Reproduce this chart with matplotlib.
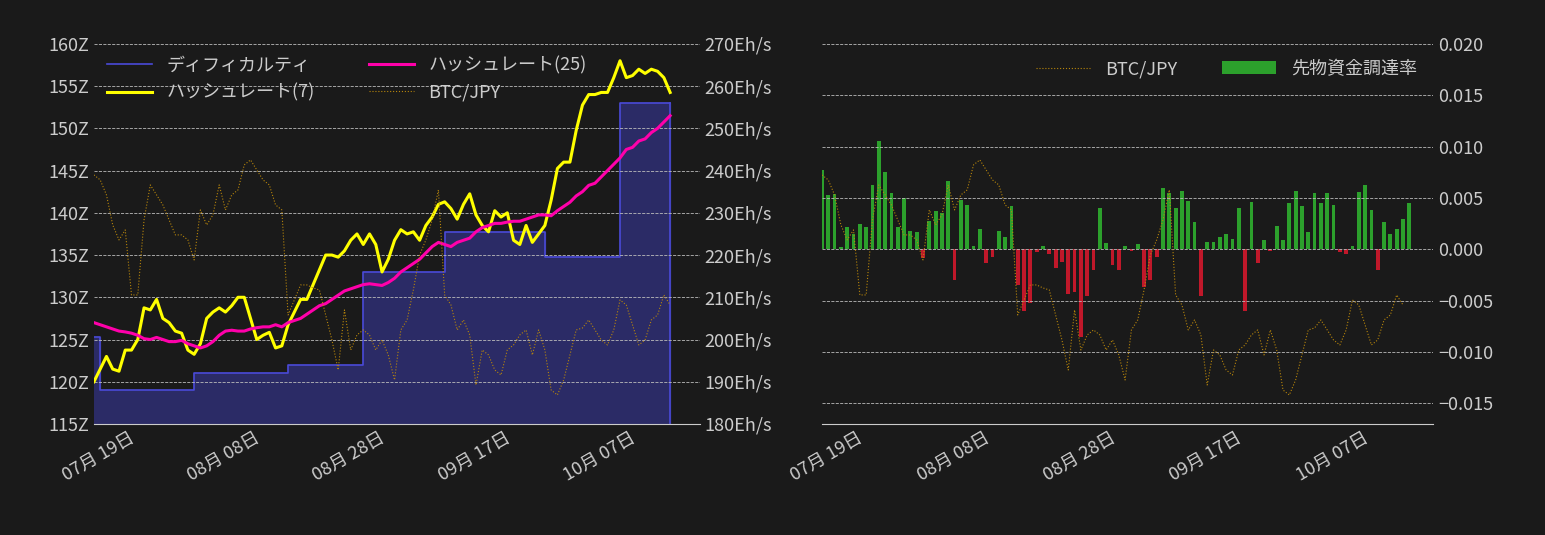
import matplotlib
matplotlib.use("Agg")
import matplotlib.pyplot as plt
import matplotlib.dates as mdates
import numpy as np
import pandas as pd

plt.rcParams['font.family'] = ['Noto Sans CJK JP', 'DejaVu Sans']

BG = '#1a1a1a'
FG = '#cccccc'

start = pd.Timestamp('2024-07-12')

# difficulty (Z): (change date, value)
diff_dates = ['2024-07-12', '2024-07-13', '2024-07-28', '2024-08-12', '2024-08-24',
              '2024-09-06', '2024-09-22', '2024-10-04', '2024-10-12']
diff_vals = [125.3, 119.0, 121.0, 122.0, 133.0, 137.7, 134.8, 153.0, 153.0]

hash7 = [190, 193, 196, 193, 192.5, 197.5, 197.5, 200, 207.5, 207, 209.5, 205, 204, 202,
         201.5, 197.5, 196.5, 199, 205, 206.5, 207.5, 206.5, 208, 210, 210, 205, 200, 201,
         201.7, 198, 198.5, 203.5, 206.5, 209.5, 209.5, 213, 216.5, 220, 220, 219.5, 221,
         223.5, 225, 222.5, 225, 222.5, 216, 219, 223.5, 226, 225, 225.5, 223.5, 227, 229,
         232, 232.6, 231, 228.5, 232, 234.5, 229.5, 227, 225.5, 230.5, 229, 230, 223.5,
         222.5, 227, 223, 225, 227, 233, 240.5, 242, 242, 249.5, 255.5, 258, 258, 258.5,
         258.5, 262, 266, 262, 262.5, 264, 263, 264, 263.5, 262, 258.5]

hash25 = [204, 203.5, 203, 202.5, 202, 201.8, 201.5, 201, 200.2, 200, 200.5, 200, 199.5,
          199.5, 199.8, 199, 198.5, 198, 198.5, 199.5, 201, 202, 202.2, 202, 202, 202.5,
          202.8, 203, 203, 203.5, 203, 204, 204.5, 205, 206, 207, 208, 208.5, 209.5, 210.5,
          211.5, 212, 212.5, 213, 213.2, 213, 212.8, 213.5, 214.5, 216, 217, 218, 219,
          220.5, 222, 223, 222.5, 222, 223, 223.5, 224, 225.5, 226.5, 227, 227.5, 227.5,
          227.8, 228, 228, 228.5, 229, 229.5, 229.5, 229.3, 230.5, 231.5, 232.5, 234, 235,
          236.5, 237, 238.5, 240, 241.5, 243, 245, 245.5, 247, 247.5, 249, 250, 251.5, 253]

btc = [977.5, 975, 967.5, 952.5, 945, 950, 917.5, 917.5, 955, 972.5, 967.5, 962.5, 955,
       947.5, 947.5, 945, 935, 960, 952.5, 957.5, 972.5, 960, 967.5, 970, 982.5, 985, 980,
       975, 972.5, 962.5, 960, 907.5, 915, 922.5, 922.5, 921, 920, 907.5, 895, 880, 910, 890,
       897.5, 900, 897.5, 890, 895, 887.5, 875, 900, 905, 920, 937.5, 945, 955, 970, 917.5,
       912.5, 900, 905, 897.5, 872.5, 890, 887.5, 880, 877.5, 890, 892.5, 897.5, 900, 887.5,
       900, 890, 870, 867.5, 875, 887.5, 900, 901, 905, 900, 895, 892.5, 900, 915, 912.5,
       902.5, 892.5, 895, 905, 907.5, 917.5, 912.5]

funding = [0.0077, 0.0053, 0.0054, 0.0002, 0.0022, 0.0015, 0.0025, 0.0022, 0.0063, 0.0105,
           0.0075, 0.0055, 0.0022, 0.0050, 0.0018, 0.0017, -0.0008, 0.0028, 0.0037, 0.0035,
           0.0067, -0.0030, 0.0048, 0.0043, 0.0003, 0.0020, -0.0013, -0.0007, 0.0018, 0.0012,
           0.0042, -0.0035, -0.0060, -0.0052, -0.0003, 0.0003, -0.0005, -0.0018, -0.0012,
           -0.0043, -0.0042, -0.0085, -0.0045, -0.0020, 0.0040, 0.0006, -0.0015, -0.0020,
           0.0003, -0.0002, 0.0005, -0.0037, -0.0030, -0.0007, 0.0060, 0.0055, 0.0040, 0.0057,
           0.0047, 0.0027, -0.0045, 0.0007, 0.0007, 0.0012, 0.0015, 0.0010, 0.0040, -0.0060,
           0.0046, -0.0013, 0.0009, -0.0002, 0.0023, 0.0009, 0.0045, 0.0057, 0.0042, 0.0017,
           0.0055, 0.0045, 0.0055, 0.0043, -0.0003, -0.0005, 0.0003, 0.0056, 0.0063, 0.0038,
           -0.0020, 0.0027, 0.0015, 0.0020, 0.0030, 0.0045]

d_hash = pd.date_range(start, periods=len(hash7))
d_h25 = pd.date_range(start, periods=len(hash25))
d_btc = pd.date_range(start, periods=len(btc))
d_fund = pd.date_range(start, periods=len(funding))
d_diff = pd.to_datetime(diff_dates)

xlim = (pd.Timestamp('2024-07-12'), pd.Timestamp('2024-10-16 18:00'))
ticks = pd.to_datetime(['2024-07-19', '2024-08-08', '2024-08-28', '2024-09-17', '2024-10-07'])
btc_lim = (853, 1043)


def style(ax):
    ax.set_facecolor(BG)
    for s in ax.spines.values():
        s.set_visible(False)
    ax.tick_params(colors=FG, labelsize=13, length=0)


fig = plt.figure(figsize=(15.45, 5.35), dpi=100, facecolor=BG)

# ---- left panel
ax = fig.add_axes([0.0608, 0.2075, 0.3922, 0.7105])
style(ax)
ax.spines['bottom'].set_visible(True)
ax.spines['bottom'].set_color(FG)
ax.fill_between(d_diff, diff_vals, 115, step='post', color='#2b2b66', zorder=1)
ax.step(d_diff, diff_vals, where='post', color='#4a4ad8', lw=1.2, zorder=2, label='ディフィカルティ')
ax.plot([d_diff[-1], d_diff[-1]], [115, diff_vals[-1]], color='#4a4ad8', lw=1.2)
ax.set_ylim(115, 160)
ax.set_yticks(range(115, 161, 5))
ax.set_yticklabels([f'{v}Z' for v in range(115, 161, 5)])
ax.set_xlim(*xlim)
ax.set_xticks(ticks)
ax.xaxis.set_major_formatter(mdates.DateFormatter('%m月 %d日'))
plt.setp(ax.get_xticklabels(), rotation=30, ha='right')

axh = ax.twinx()
style(axh)
axh.grid(True, color='#bbbbbb', ls='--', lw=0.6)
l7, = axh.plot(d_hash, hash7, color='#ffff00', lw=2.2, label='ハッシュレート(7)')
l25, = axh.plot(d_h25, hash25, color='#ff00aa', lw=2.2, label='ハッシュレート(25)')
axh.set_ylim(180, 270)
axh.set_yticks(range(180, 271, 10))
axh.set_yticklabels([f'{v}Eh/s' for v in range(180, 271, 10)])
axh.set_xlim(*xlim)

axb = ax.twinx()
axb.set_axis_off()
lb, = axb.plot(d_btc, btc, color='#b8860b', lw=0.8, ls=':', label='BTC/JPY')
axb.set_ylim(*btc_lim)
axb.set_xlim(*xlim)

hd, = ax.plot([], [], color='#4a4ad8', lw=1.2)
leg = axb.legend([hd, l7, l25, lb], ['ディフィカルティ', 'ハッシュレート(7)', 'ハッシュレート(25)', 'BTC/JPY'],
                 ncol=2, loc='upper left', frameon=False, fontsize=13, labelcolor=FG,
                 columnspacing=3, handlelength=2.5, borderaxespad=0.3)

# ---- right panel
ax2 = fig.add_axes([0.532, 0.2075, 0.3955, 0.7105])
style(ax2)
ax2.set_yticks([])
ax2.spines['bottom'].set_visible(True)
ax2.spines['bottom'].set_color(FG)
lb2, = ax2.plot(d_btc, btc, color='#b8860b', lw=0.8, ls=':', label='BTC/JPY')
ax2.set_ylim(*btc_lim)
ax2.set_xlim(*xlim)
ax2.set_xticks(ticks)
ax2.xaxis.set_major_formatter(mdates.DateFormatter('%m月 %d日'))
plt.setp(ax2.get_xticklabels(), rotation=30, ha='right')

ax3 = ax2.twinx()
style(ax3)
ax3.grid(True, axis='y', color='#bbbbbb', ls='--', lw=0.6)
cols = ['#2ca02c' if v >= 0 else '#c0182a' for v in funding]
bars = ax3.bar(d_fund, funding, width=0.6, color=cols, label='先物資金調達率')
ax3.set_ylim(-0.017, 0.02)
ax3.set_yticks([-0.015, -0.01, -0.005, 0, 0.005, 0.01, 0.015, 0.02])
ax3.set_yticklabels(['−0.015', '−0.010', '−0.005', '0.000', '0.005', '0.010', '0.015', '0.020'])
ax3.set_xlim(*xlim)
ax3.set_zorder(ax2.get_zorder() - 1)
ax2.patch.set_visible(False)
ax3.patch.set_facecolor(BG)
ax2.legend([lb2, bars], ['BTC/JPY', '先物資金調達率'], ncol=2, loc='upper right',
           frameon=False, fontsize=13, labelcolor=FG, columnspacing=2.5, handlelength=3)

fig.savefig('out.png', dpi=100, facecolor=BG)
